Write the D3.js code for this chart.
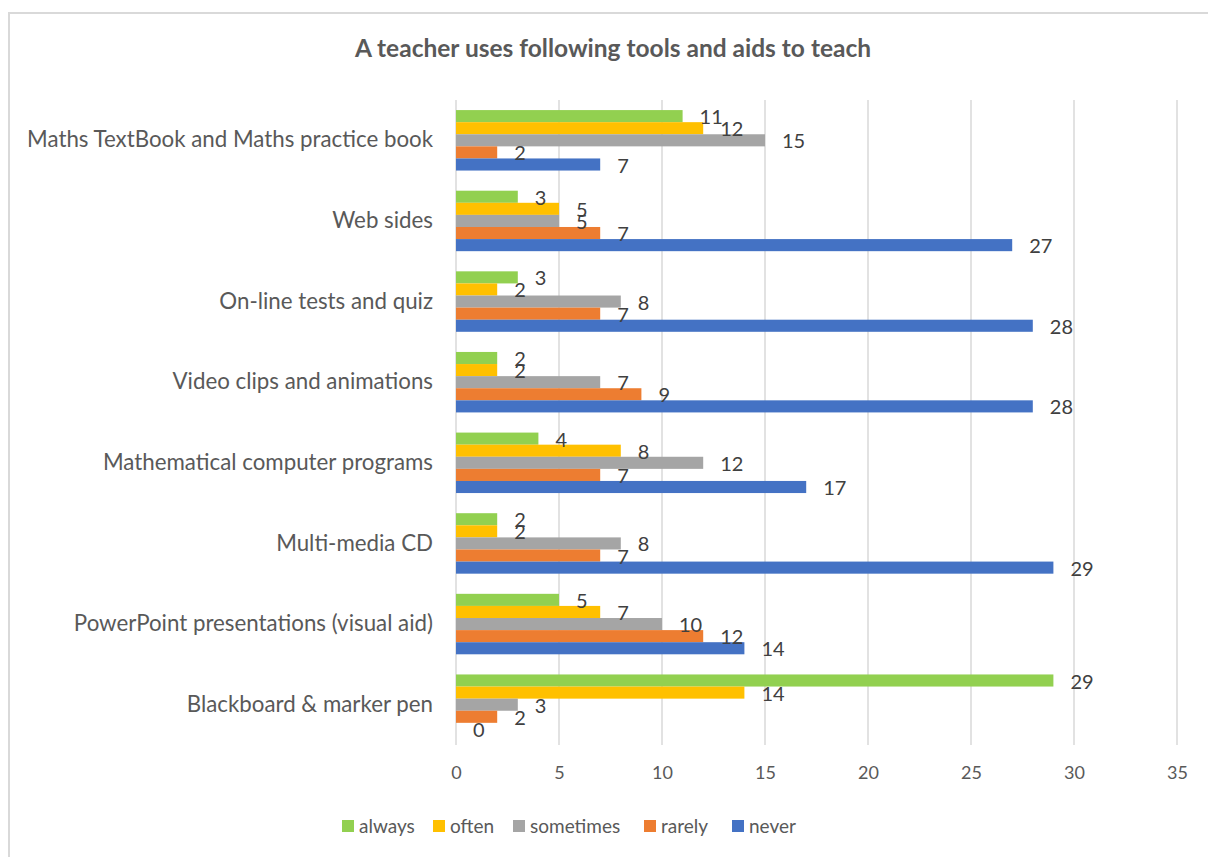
<!DOCTYPE html>
<html>
<head>
<meta charset="utf-8">
<script src="https://cdn.jsdelivr.net/npm/d3@7"></script>
<style>
  html, body { margin: 0; padding: 0; background: #fff; }
  svg { display: block; font-family: Lato, "Open Sans", sans-serif; }
</style>
</head>
<body>
<svg id="chart" width="1208" height="857"></svg>
<script>
const categories = [
  "Maths TextBook and Maths practice book",
  "Web sides",
  "On-line tests and quiz",
  "Video clips and animations",
  "Mathematical computer programs",
  "Multi-media CD",
  "PowerPoint presentations (visual aid)",
  "Blackboard & marker pen"
];
const seriesNames = ["always", "often", "sometimes", "rarely", "never"];
const always    = [11, 3, 3, 2, 4, 2, 5, 29];
const often     = [12, 5, 2, 2, 8, 2, 7, 14];
const sometimes = [15, 5, 8, 7, 12, 8, 10, 3];
const rarely    = [2, 7, 7, 9, 7, 7, 12, 2];
const never     = [7, 27, 28, 28, 17, 29, 14, 0];
const xTicks = [0, 5, 10, 15, 20, 25, 30, 35];
const colors = ["#92D050", "#FFC000", "#A5A5A5", "#ED7D31", "#4472C4"];

const seriesValues = [always, often, sometimes, rarely, never];
const rows = categories.map((c, i) => ({
  category: c,
  values: seriesNames.map((s, k) => ({ key: s, value: seriesValues[k][i] }))
}));

const FONT = "Lato, \"Open Sans\", sans-serif";
const svg = d3.select("#chart");
const margin = { left: 456, right: 31, top: 100, bottom: 112 };
const W = 1208, H = 857;

// chart frame
svg.append("rect")
  .attr("x", 9).attr("y", 13)
  .attr("width", W + 10).attr("height", H + 10)
  .attr("fill", "#fff").attr("stroke", "#d9d9d9").attr("stroke-width", 2);

svg.append("text")
  .attr("x", 613).attr("y", 57)
  .attr("text-anchor", "middle")
  .attr("fill", "#595959")
  .attr("font-size", 24.5)
  .attr("font-weight", "bold")
  .text("A teacher uses following tools and aids to teach");

const x = d3.scaleLinear().domain([0, 35]).range([margin.left, W - margin.right]);
const y0 = d3.scaleBand().domain(categories).range([margin.top, H - margin.bottom]).paddingInner(0.25).paddingOuter(0.125);
const y1 = d3.scaleBand().domain(seriesNames).range([0, y0.bandwidth()]);
const color = d3.scaleOrdinal().domain(seriesNames).range(colors);

// vertical gridlines
svg.append("g")
  .selectAll("line")
  .data(xTicks)
  .join("line")
  .attr("x1", d => x(d)).attr("x2", d => x(d))
  .attr("y1", margin.top).attr("y2", H - margin.bottom)
  .attr("stroke", "#d9d9d9").attr("stroke-width", 1.5);

// x axis labels
const xAxis = d3.axisBottom(x).tickValues(xTicks).tickSize(0).tickPadding(0);
const gx = svg.append("g").attr("transform", `translate(0,${H - margin.bottom + 18})`).call(xAxis);
gx.select(".domain").remove();
gx.selectAll("text")
  .attr("fill", "#595959")
  .attr("font-size", 18)
  .attr("font-family", FONT)
  .attr("dy", "0.9em");

// category labels
const yAxis = d3.axisLeft(y0).tickSize(0).tickPadding(23);
const gy = svg.append("g").attr("transform", `translate(${margin.left},0)`).call(yAxis);
gy.select(".domain").remove();
gy.selectAll("text")
  .attr("fill", "#595959")
  .attr("font-size", 22.3)
  .attr("font-family", FONT);

// bars
const groups = svg.append("g")
  .selectAll("g")
  .data(rows)
  .join("g")
  .attr("transform", d => `translate(0,${y0(d.category)})`);

groups.selectAll("rect")
  .data(d => d.values)
  .join("rect")
  .attr("x", x(0))
  .attr("y", d => y1(d.key))
  .attr("width", d => x(d.value) - x(0))
  .attr("height", y1.bandwidth())
  .attr("fill", d => color(d.key));

groups.selectAll("text")
  .data(d => d.values)
  .join("text")
  .attr("x", d => x(d.value) + 17)
  .attr("y", d => y1(d.key) + y1.bandwidth() / 2 + 1)
  .attr("dy", "0.35em")
  .attr("fill", "#404040")
  .attr("font-size", 20)
  .text(d => d.value);

// legend
const legendX = [342, 433, 513, 644, 732];
const legend = svg.append("g")
  .selectAll("g")
  .data(seriesNames)
  .join("g")
  .attr("transform", (d, i) => `translate(${legendX[i]},826)`);
legend.append("rect")
  .attr("x", 0).attr("y", -6)
  .attr("width", 12).attr("height", 12)
  .attr("fill", d => color(d));
legend.append("text")
  .attr("x", 17).attr("y", 0)
  .attr("dy", "0.35em")
  .attr("fill", "#595959")
  .attr("font-size", 19)
  .text(d => d);
</script>
</body>
</html>
